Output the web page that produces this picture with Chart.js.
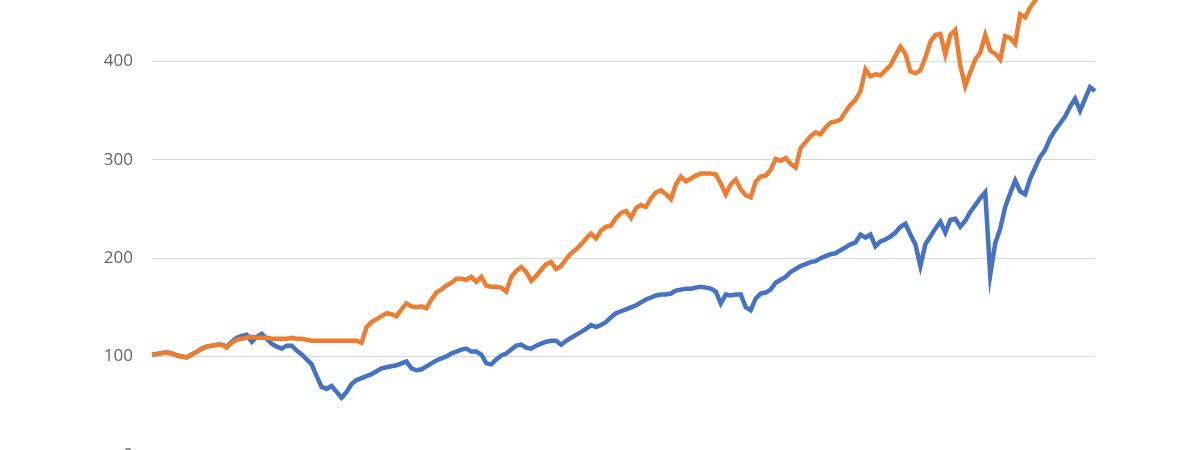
<!DOCTYPE html>
<html>
<head>
<meta charset="utf-8">
<script src="https://cdn.jsdelivr.net/npm/chart.js@4/dist/chart.umd.min.js"></script>
<style>
	html, body { margin: 0; padding: 0; background: #fff; overflow: hidden; }
	#wrap { position: absolute; left: 0; top: -66px; width: 1200px; height: 550px; }
</style>
</head>
<body>
<div id="wrap"><canvas id="chart" width="1200" height="550"></canvas></div>
<script>
// values, one point roughly every 5 px
var orangeSeries = [
	102, 102.5, 103.5, 104, 103, 101, 100, 99, 102, 105,
	108, 110, 111, 112, 112, 109, 114, 117, 118, 119,
	120, 119, 119, 119, 118, 118, 118, 118, 119, 118,
	118, 117, 116, 116, 116, 116, 116, 116, 116, 116,
	116, 116, 114, 130, 135, 138, 141, 144, 143, 141,
	148, 154, 151, 150, 151, 149, 158, 165, 168, 172,
	175, 179, 179, 178, 181, 176, 181, 172, 171, 171,
	170, 166, 181, 187, 191, 186, 177, 182, 188, 194,
	196, 189, 192, 199, 205, 209, 214, 220, 225, 220,
	228, 232, 233, 241, 246, 248, 241, 251, 254, 252,
	261, 267, 269, 265, 260, 275, 283, 278, 281, 284,
	286, 286, 286, 285, 276, 265, 275, 280, 270, 264,
	262, 278, 283, 284, 290, 301, 299, 302, 296, 292,
	312, 318, 324, 328, 326, 333, 338, 339, 341, 349,
	356, 361, 370, 392, 385, 387, 386, 391, 396, 406,
	415, 408, 390, 388, 391, 404, 420, 427, 428, 407,
	427, 432, 396, 375, 389, 402, 409, 427, 411, 408,
	402, 426, 424, 418, 448, 445, 455, 462, 468, 472,
	478, 476, 485, 490, 488, 497, 502, 498, 506, 512
];
var blueSeries = [
	102, 102.5, 103.5, 104, 103, 101, 100, 99, 102, 105,
	108, 110, 111, 112, 112, 110, 115, 119, 121, 122,
	115, 120, 123, 118, 113, 110, 108, 111, 111, 106,
	102, 97, 92, 80, 69, 67, 70, 64, 58, 64,
	72, 76, 78, 80, 82, 85, 88, 89, 90, 91,
	93, 95, 88, 86, 87, 90, 93, 96, 98, 100,
	103, 105, 107, 108, 105, 105, 102, 93, 92, 97,
	101, 103, 107, 111, 112, 109, 108, 111, 113, 115,
	116, 116, 112, 116, 119, 122, 125, 128, 132, 130,
	132, 135, 140, 144, 146, 148, 150, 152, 155, 158,
	160, 162, 163, 163, 164, 167, 168, 169, 169, 170,
	171, 170, 169, 166, 154, 163, 162, 163, 163, 150,
	147, 159, 164, 165, 168, 175, 178, 181, 186, 189,
	192, 194, 196, 197, 200, 202, 204, 205, 208, 211,
	214, 216, 224, 221, 224, 212, 217, 219, 222, 226,
	232, 235, 224, 214, 192, 214, 222, 230, 237, 226,
	239, 240, 232, 238, 247, 254, 261, 267, 183, 215,
	230, 252, 266, 279, 268, 265, 281, 292, 303, 310,
	322, 330, 337, 344, 354, 362, 350, 362, 374, 370
];
var yTicks = [0, 100, 200, 300, 400, 500];
var labels = orangeSeries.map(function (v, i) { return i; });

var ctx = document.getElementById("chart").getContext("2d");
new Chart(ctx, {
	type: "line",
	data: {
		labels: labels,
		datasets: [
			{
				label: "Orange",
				data: orangeSeries,
				borderColor: "#ED7D31",
				borderWidth: 4.5,
				pointRadius: 0,
				tension: 0,
				fill: false
			},
			{
				label: "Blue",
				data: blueSeries,
				borderColor: "#4472C4",
				borderWidth: 4.5,
				pointRadius: 0,
				tension: 0,
				fill: false
			}
		]
	},
	options: {
		responsive: false,
		animation: false,
		layout: { padding: { left: 0, right: 105, top: 21, bottom: 20 } },
		plugins: {
			legend: { display: false },
			tooltip: { enabled: false }
		},
		scales: {
			x: { display: false },
			y: {
				min: yTicks[0],
				max: yTicks[yTicks.length - 1],
				afterBuildTicks: function (scale) {
					scale.ticks = yTicks.map(function (v) { return { value: v }; });
				},
				afterFit: function (scale) { scale.width = 152; },
				border: { display: false },
				grid: { color: "#d9d9d9", lineWidth: 1, drawTicks: false },
				ticks: {
					padding: 19,
					color: "#646464",
					font: { family: "Open Sans", size: 17 }
				}
			}
		}
	}
});
</script>
</body>
</html>
